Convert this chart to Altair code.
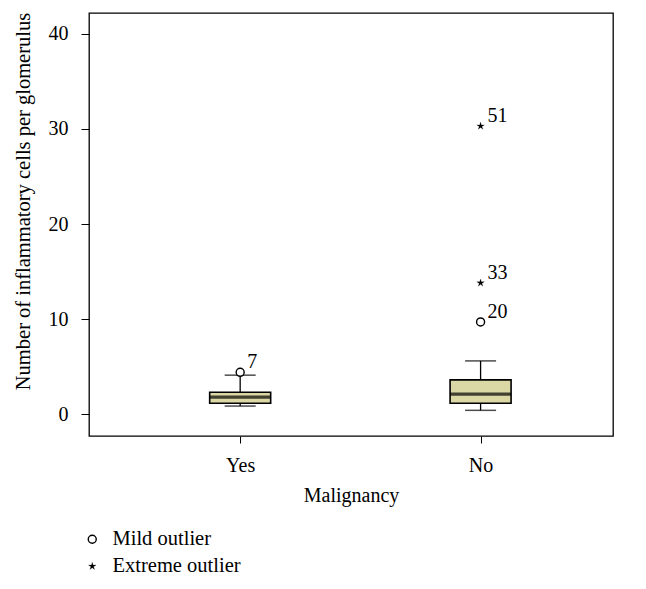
import altair as alt
import pandas as pd

# ---- data ----
groups = ["Yes", "No"]
positions = [1, 2]
q1 = [1.15, 1.15]
median = [1.8, 2.1]
q3 = [2.3, 3.6]
whisk_lo = [0.85, 0.4]
whisk_hi = [4.1, 5.6]

out_group = ["Yes", "No", "No", "No"]
out_pos = [1, 2, 2, 2]
out_value = [4.4, 9.7, 13.8, 30.3]
out_type = ["Mild outlier", "Mild outlier", "Extreme outlier", "Extreme outlier"]
out_case = ["7", "20", "33", "51"]

types = ["Mild outlier", "Extreme outlier"]

FONT = "Liberation Serif"
FILL = "#dcd8a5"
STAR = ("M0,-1L0.206,-0.283L0.951,-0.309L0.333,0.108L0.588,0.809L0,0.35"
        "L-0.588,0.809L-0.333,0.108L-0.951,-0.309L-0.206,-0.283Z")

boxes = pd.DataFrame({"group": groups, "pos": positions, "q1": q1, "median": median,
                      "q3": q3, "lo": whisk_lo, "hi": whisk_hi})
outs = pd.DataFrame({"group": out_group, "pos": out_pos, "value": out_value,
                     "type": out_type, "case": out_case})

label_expr = " : ".join(
    [f"datum.value == {p} ? '{g}'" for p, g in zip(positions, groups)]) + " : ''"

xscale = alt.Scale(domain=[0.392, 2.53], nice=False, zero=False)
yscale = alt.Scale(domain=[-2.3, 42.2], nice=False, zero=False)

xenc = alt.X("pos:Q", scale=xscale, title="Malignancy",
             axis=alt.Axis(values=positions, labelExpr=label_expr, grid=False,
                           domain=False, tickSize=7, tickColor="black",
                           labelPadding=12, titlePadding=10, labelFontSize=20,
                           titleFontSize=20))
yaxis = alt.Axis(values=[0, 10, 20, 30, 40], grid=False, domain=False, tickSize=8,
                 tickColor="black", labelPadding=13, labelFontSize=20,
                 titleFontSize=20.5, titlePadding=15, titleY=188)

base = alt.Chart(boxes)

whisk = base.mark_rule(color="black", strokeWidth=1.3).encode(
    x=xenc,
    y=alt.Y("lo:Q", scale=yscale, axis=yaxis,
            title="Number of inflammatory cells per glomerulus"),
    y2="hi:Q")

cap_lo = base.mark_tick(orient="horizontal", size=31, thickness=1.5, color="black").encode(
    x="pos:Q", y="lo:Q")
cap_hi = base.mark_tick(orient="horizontal", size=31, thickness=1.5, color="black").encode(
    x="pos:Q", y="hi:Q")

box = base.mark_bar(size=61, fill=FILL, stroke="black", strokeWidth=1.6).encode(
    x="pos:Q", y="q1:Q", y2="q3:Q")

med = base.mark_tick(orient="horizontal", size=61, thickness=3.2, color="black").encode(
    x="pos:Q", y="median:Q")

leg = alt.Legend(title=None, orient="none", legendX=-7, legendY=516,
                 labelFontSize=20.5, symbolSize=64, labelOffset=10, rowPadding=6,
                 padding=0, labelFont=FONT, labelColor="black")

points = alt.Chart(outs).mark_point(filled=True, size=64, opacity=1).encode(
    x="pos:Q", y="value:Q",
    shape=alt.Shape("type:N", scale=alt.Scale(domain=types, range=["circle", STAR]),
                    legend=leg),
    fill=alt.Fill("type:N", scale=alt.Scale(domain=types, range=["white", "black"]),
                  legend=leg),
    stroke=alt.Stroke("type:N", scale=alt.Scale(domain=types, range=["black", "black"]),
                      legend=leg),
    strokeWidth=alt.StrokeWidth("type:N",
                                scale=alt.Scale(domain=types, range=[1.4, 0.2]),
                                legend=leg))

labels = alt.Chart(outs).mark_text(align="left", baseline="middle", dx=7, dy=-10,
                                   font=FONT, fontSize=20, color="black").encode(
    x="pos:Q", y="value:Q", text="case:N")

chart = alt.layer(whisk, cap_lo, cap_hi, box, med, points, labels).properties(
    width=524, height=423,
    autosize=alt.AutoSizeParams(type="none"),
    padding={"left": 81, "top": 5, "right": 25, "bottom": 143},
).configure_view(stroke="black", strokeWidth=1.3).configure_axis(
    labelFont=FONT, titleFont=FONT, labelColor="black", titleColor="black",
    titleFontWeight="normal"
).configure_legend(labelFont=FONT)

chart.save("out.html", embed_options={"renderer": "svg", "actions": False})
